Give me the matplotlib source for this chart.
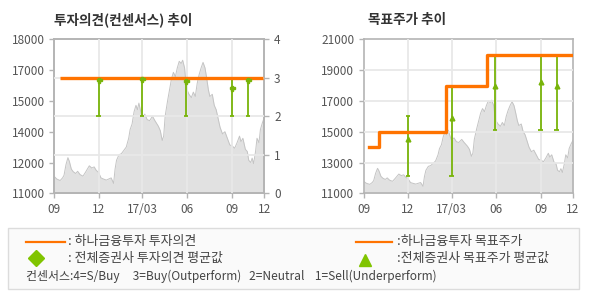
import matplotlib
matplotlib.use("Agg")
import matplotlib.pyplot as plt
import matplotlib.dates as mdates
import pandas as pd
from matplotlib.patches import Rectangle

plt.rcParams['font.family'] = ['Noto Sans CJK KR', 'DejaVu Sans']

# ---------------- data ----------------
price_dates = [
    '2016-09-01','2016-09-06','2016-09-13','2016-09-18','2016-09-21','2016-09-25','2016-09-29',
    '2016-10-02','2016-10-06','2016-10-10','2016-10-15','2016-10-19','2016-10-24','2016-10-30',
    '2016-11-04','2016-11-08','2016-11-12','2016-11-17','2016-11-22','2016-11-26','2016-12-01',
    '2016-12-06','2016-12-11','2016-12-17','2016-12-22','2016-12-27','2017-01-01','2017-01-04',
    '2017-01-07','2017-01-12','2017-01-17','2017-01-22','2017-01-27','2017-02-01','2017-02-04',
    '2017-02-08','2017-02-12','2017-02-16','2017-02-19','2017-02-22','2017-02-26','2017-03-01',
    '2017-03-06','2017-03-11','2017-03-16','2017-03-22','2017-03-27','2017-04-03','2017-04-07',
    '2017-04-11','2017-04-14','2017-04-17','2017-04-22','2017-04-26','2017-04-30','2017-05-04',
    '2017-05-08','2017-05-12','2017-05-16','2017-05-20','2017-05-23','2017-05-27','2017-05-29',
    '2017-06-01','2017-06-05','2017-06-10','2017-06-14','2017-06-18','2017-06-22','2017-06-26',
    '2017-06-30','2017-07-04','2017-07-08','2017-07-11','2017-07-15','2017-07-18','2017-07-23',
    '2017-07-27','2017-07-31','2017-08-04','2017-08-08','2017-08-13','2017-08-18','2017-08-23',
    '2017-08-28','2017-09-02','2017-09-07','2017-09-12','2017-09-17','2017-09-20','2017-09-24',
    '2017-09-29','2017-10-03','2017-10-06','2017-10-10','2017-10-13','2017-10-16','2017-10-20',
    '2017-10-23','2017-10-27','2017-10-30','2017-11-03','2017-11-07']
price_values = [
    11760,11650,11580,11700,11820,12300,12620,
    12450,12100,11980,11900,12000,11850,11780,
    11950,12100,12250,12150,12200,12050,11950,
    11700,11650,11600,11650,11700,11450,12100,
    12500,12750,12800,12950,13100,13500,13900,
    14150,14700,15000,14800,15100,14700,14400,
    14600,14350,14300,14500,14300,14050,13850,
    13400,13600,14500,15200,15700,16200,16500,
    16300,16700,17000,16900,17050,16700,16200,
    15700,15500,15350,15600,15400,16000,16400,
    16700,16950,16700,16300,15700,15400,15500,
    15000,14800,14400,14000,13700,13800,13500,
    13200,13150,13050,13300,13600,13350,13500,
    13000,12900,12500,12400,12600,12350,12900,
    13500,13300,13900,14200,14450]

# Hana Financial Investment opinion (3 = Buy)
opinion_dates = ['2016-09-12', '2017-11-05']
opinion_values = [3, 3]

# Hana Financial Investment target price (step)
target_dates = ['2016-09-12', '2016-10-02', '2017-02-17', '2017-05-13', '2017-11-05']
target_values = [14000, 15000, 18000, 20000, 20000]

# consensus (all brokers)
cons_dates = ['2016-12-01', '2017-03-01', '2017-05-30', '2017-09-01', '2017-10-04']
cons_op_min = [2, 2, 2, 2, 2]
cons_op_max = [3, 3, 3, 3, 3]
cons_op_avg = [2.94, 2.96, 2.91, 2.74, 2.94]
cons_tp_min = [12150, 12150, 15100, 15100, 15100]
cons_tp_max = [16000, 18000, 20000, 20000, 20000]
cons_tp_avg = [14550, 15900, 17950, 18200, 17950]

x_tick_dates = ['2016-09-01', '2016-12-01', '2017-03-01', '2017-06-01', '2017-09-01', '2017-11-07']
x_tick_labels = ['09', '12', '17/03', '06', '09', '12']

left_price_ticks = [11000, 12400, 13800, 15200, 16600, 18000]
left_price_labels = ['11000', '12000', '14000', '15000', '17000', '18000']
opinion_ticks = [0, 1, 2, 3, 4]
right_price_ticks = [11000, 13000, 15000, 17000, 19000, 21000]

# ---------------- styling ----------------
ORANGE = '#ff7300'
GREEN = '#78b40a'
GREEN_LEG = '#80c400'
AREA = '#e1e1e1'
AREA_EDGE = '#c4c4c4'
GRID = '#e8e8e8'
SPINE = '#b4b4b4'
TXT = '#555555'

W, H = 590, 300
fig = plt.figure(figsize=(W / 100, H / 100), dpi=100)

pd_dates = mdates.date2num(pd.to_datetime(price_dates))
xt = mdates.date2num(pd.to_datetime(x_tick_dates))
xlim = (xt[0], xt[-1])


def style_axes(ax):
    for s in ax.spines.values():
        s.set_color(SPINE)
        s.set_linewidth(1.2)
    ax.tick_params(colors=SPINE, labelcolor=TXT, labelsize=8.5, length=3.5, width=1)


def axrect(x0, y0, x1, y1):
    return [x0 / W, 1 - y1 / H, (x1 - x0) / W, (y1 - y0) / H]


# ---------- left chart ----------
ax1 = fig.add_axes(axrect(54.3, 39.3, 264.3, 193.3))
ax1.fill_between(pd_dates, price_values, 11000, color=AREA, lw=0, zorder=1)
ax1.plot(pd_dates, price_values, color=AREA_EDGE, lw=0.7, zorder=2)
ax1.set_xlim(*xlim)
ax1.set_ylim(11000, 18000)
ax1.set_yticks(left_price_ticks)
ax1.set_yticklabels(left_price_labels)
ax1.set_xticks(xt)
ax1.set_xticklabels(x_tick_labels)
style_axes(ax1)

ax1r = ax1.twinx()
ax1r.set_ylim(0, 4)
ax1r.set_yticks(opinion_ticks)
ax1r.set_xlim(*xlim)
style_axes(ax1r)
for t in ax1r.get_yticks()[1:-1]:
    ax1r.axhline(t, color=GRID, lw=1.3, zorder=3)
for t in xt[1:-1]:
    ax1r.axvline(t, color=GRID, lw=1.3, zorder=3)

cd = mdates.date2num(pd.to_datetime(cons_dates))
ax1r.vlines(cd, cons_op_min, cons_op_max, color=GREEN, lw=1.3, zorder=4)
ax1r.hlines(cons_op_min, cd - 4.5, cd + 4.5, color=GREEN, lw=1.3, zorder=4)
ax1r.plot(cd, cons_op_avg, linestyle='none', marker='P', ms=3.6, color=GREEN, zorder=6)
od = mdates.date2num(pd.to_datetime(opinion_dates))
ax1r.plot(od, opinion_values, color=ORANGE, lw=2.4, zorder=5, solid_capstyle='butt')

fig.text(54.5 / W, 1 - 20 / H, '투자의견(컨센서스) 추이', fontsize=9.8, fontweight='bold',
         color='#333333', va='center', ha='left')

# ---------- right chart ----------
ax2 = fig.add_axes(axrect(364, 39.3, 573, 193.3))
ax2.fill_between(pd_dates, price_values, 11000, color=AREA, lw=0, zorder=1)
ax2.plot(pd_dates, price_values, color=AREA_EDGE, lw=0.7, zorder=2)
ax2.set_xlim(*xlim)
ax2.set_ylim(11000, 21000)
ax2.set_yticks(right_price_ticks)
ax2.set_xticks(xt)
ax2.set_xticklabels(x_tick_labels)
style_axes(ax2)
for t in right_price_ticks[1:-1]:
    ax2.axhline(t, color=GRID, lw=1.3, zorder=3)
for t in xt[1:-1]:
    ax2.axvline(t, color=GRID, lw=1.3, zorder=3)

ax2.vlines(cd, cons_tp_min, cons_tp_max, color=GREEN, lw=1.3, zorder=4)
ax2.hlines(cons_tp_min, cd - 4.5, cd + 4.5, color=GREEN, lw=1.3, zorder=4)
ax2.hlines(cons_tp_max, cd - 4.5, cd + 4.5, color=GREEN, lw=1.3, zorder=4)
ax2.plot(cd, cons_tp_avg, linestyle='none', marker='^', ms=3.4, color=GREEN, zorder=6)
td = mdates.date2num(pd.to_datetime(target_dates))
ax2.plot(td, target_values, color=ORANGE, lw=2.4, drawstyle='steps-post', zorder=5)

fig.text(367.5 / W, 1 - 20 / H, '목표주가 추이', fontsize=9.8, fontweight='bold',
         color='#333333', va='center', ha='left')

# ---------- legend box ----------
lg = fig.add_axes([0, 0, 1, 1], zorder=-1)
lg.set_xlim(0, W)
lg.set_ylim(H, 0)
lg.axis('off')
lg.add_patch(Rectangle((8.3, 228.3), 571, 60.7, facecolor='#fafafa', edgecolor='#dcdcdc', lw=1))
fs = 9.3
lg.plot([26, 65], [241.5, 241.5], color=ORANGE, lw=1.6)
lg.text(68, 241.5, ': 하나금융투자 투자의견', fontsize=fs, color='#444444', va='center')
lg.plot([35.5], [258.3], marker='D', ms=8, color=GREEN_LEG, linestyle='none')
lg.text(68, 258.3, ': 전체증권사 투자의견 평균값', fontsize=fs, color='#444444', va='center')
lg.text(26.5, 276.5, '컨센서스:4=S/Buy     3=Buy(Outperform)   2=Neutral    1=Sell(Underperform)',
        fontsize=8.6, color='#444444', va='center')
lg.plot([356, 392], [241.5, 241.5], color=ORANGE, lw=1.6)
lg.text(397, 241.5, ':하나금융투자 목표주가', fontsize=fs, color='#444444', va='center')
lg.plot([365], [260], marker='^', ms=8, color=GREEN_LEG, linestyle='none')
lg.text(397, 258.3, ':전체증권사 목표주가 평균값', fontsize=fs, color='#444444', va='center')

fig.savefig('out.png', dpi=100)
